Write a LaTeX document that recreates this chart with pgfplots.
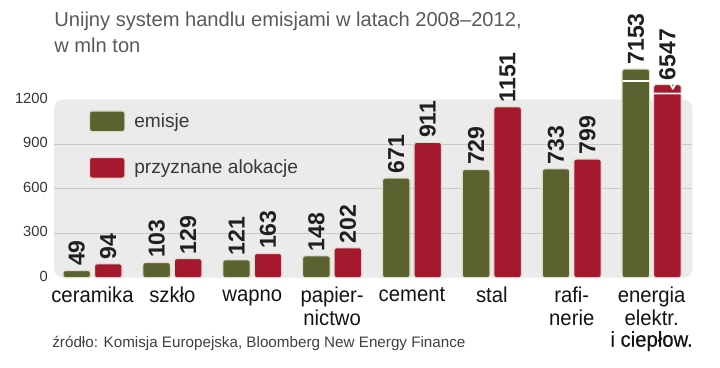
\documentclass[border=0pt]{standalone}
\usepackage{pgfplots}
\pgfplotsset{compat=1.18}
\usepackage{fontspec}
\setmainfont{Liberation Sans}
\newfontface\catfont[FakeStretch=0.94]{Liberation Sans}
\newfontface\catbold[FakeStretch=0.94, FakeBold=0.4]{Liberation Sans}
\newfontface\valfont{Liberation Sans Bold}
\definecolor{cgreen}{HTML}{5A632F}
\definecolor{cred}{HTML}{A5192F}
\definecolor{cborder}{HTML}{E4DCCB}
\definecolor{cbg}{HTML}{EBEBEB}
\definecolor{cgrid}{HTML}{C8C8C8}
\begin{document}
\begin{tikzpicture}
\begin{axis}[name=ax,
 width=648bp, height=181bp, scale only axis,
 xmin=-0.48, xmax=7.51, ymin=0, ymax=1200,
 clip=false,
 axis line style={draw=none},
 axis background/.style={fill=cbg, rounded corners=9bp},
 ybar=4bp, bar width=28bp,
 ytick={0,300,600,900,1200},
 extra y ticks={300,600,900},
 extra y tick labels={},
 extra y tick style={grid=major, major grid style={cgrid, line width=1bp}},
 major tick length=0pt,
 typeset ticklabels with strut,
 yticklabel style={font=\fontsize{15}{18}\selectfont, text=black!80, xshift=-3bp},
 /pgf/number format/assume math mode=true,
 /pgf/number format/1000 sep={},
 xtick={0,...,7},
 xticklabels={ceramika, szkło, wapno, {papier-\\nictwo}, cement, stal, {rafi-\\nerie}, {energia\\elektr.\\{\catbold i ciepłow.}}},
 xticklabel style={font=\catfont\fontsize{22}{22}\selectfont, align=center, text=black!92, inner sep=8.6bp},
 nodes near coords, point meta=explicit,
 every node near coord/.append style={rotate=90, anchor=west, inner sep=4bp, font=\valfont\fontsize{23.5}{25}\selectfont, text=black!88},
 legend style={at={(0.054,0.94)}, anchor=north west, inner sep=0pt, draw=none, fill=none, row sep=25bp, font=\fontsize{19.5}{22}\selectfont, nodes={inner sep=0pt, text=black!78}, /tikz/every odd column/.append style={column sep=9bp}},
 legend cell align=left,
 legend image code/.code={\draw[#1, rounded corners=2.5bp] (0bp,-10.5bp) rectangle (36bp,10.5bp);},
]
\addplot[fill=cgreen, draw=cborder, line width=1.2bp, rounded corners=2.5bp] coordinates {
 (0,49) [49] (1,103) [103] (2,121) [121] (3,148) [148] (4,671) [671] (5,729) [729] (6,733) [733] (7,1405) [7153]};
\addplot[fill=cred, draw=cborder, line width=1.2bp, rounded corners=2.5bp] coordinates {
 (0,94) [94] (1,129) [129] (2,163) [163] (3,202) [202] (4,911) [911] (5,1151) [1151] (6,799) [799] (7,1300) [6547]};
\legend{emisje, przyznane alokacje}
\draw[white, line width=1.8bp, line join=round] ([xshift=-29.4bp]axis cs:7,1325) -- ++(8bp,0) -- ++(4bp,-8bp) -- ++(5bp,9bp) -- ++(11bp,-1bp);
\draw[white, line width=1.8bp, line join=round] ([xshift=2.6bp]axis cs:7,1240) -- ++(8bp,0) -- ++(4bp,-9bp) -- ++(5bp,10bp) -- ++(10bp,-1bp);
\end{axis}
\node[anchor=base west, inner sep=0pt, font=\fontsize{20.5}{24}\selectfont, text=black!65] at ([yshift=255bp]ax.south west) {Unijny system handlu emisjami w latach 2008–2012,};
\node[anchor=base west, inner sep=0pt, font=\fontsize{20.5}{24}\selectfont, text=black!65] at ([yshift=229bp]ax.south west) {w mln ton};
\node[anchor=base west, inner sep=0pt, font=\fontsize{15.5}{18}\selectfont, text=black!75] at ([xshift=-2bp,yshift=-71bp]ax.south west) {źródło: Komisja Europejska, Bloomberg New Energy Finance};
\path ([xshift=-55bp,yshift=-91bp]ax.south west) rectangle ([xshift=665bp,yshift=282bp]ax.south west);
\end{tikzpicture}
\end{document}
